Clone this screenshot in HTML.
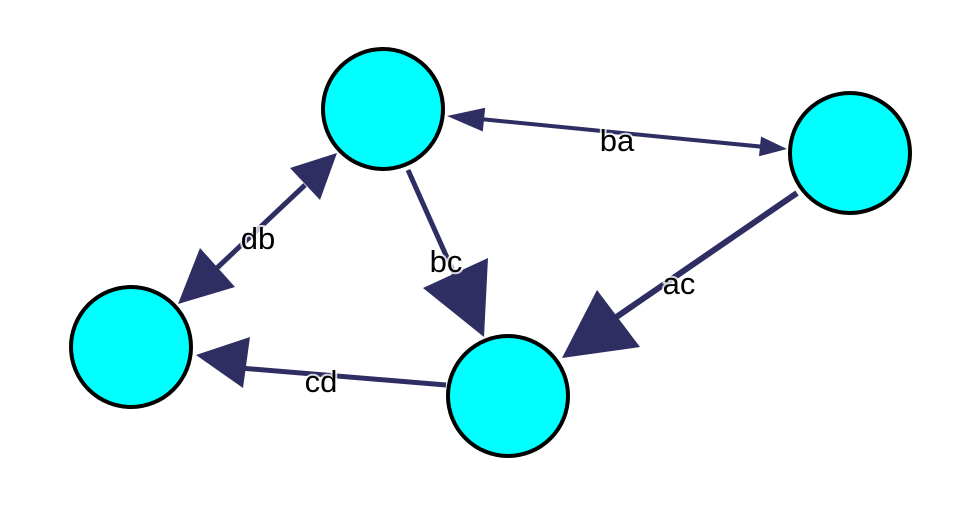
<!DOCTYPE html>
<html><head><style>html,body{margin:0;padding:0;background:#fff;}svg{display:block}</style></head>
<body>
<svg width="962" height="518" viewBox="0 0 962 518" xmlns="http://www.w3.org/2000/svg">
<g stroke="#2e2e62" fill="none" stroke-linecap="butt">
<line x1="480" y1="119" x2="765" y2="147" stroke-width="4"/>
<line x1="305" y1="185" x2="217" y2="268" stroke-width="5"/>
<line x1="408" y1="170" x2="457" y2="280" stroke-width="5"/>
<line x1="797" y1="193" x2="615" y2="318" stroke-width="6"/>
<line x1="446" y1="385" x2="240" y2="368" stroke-width="5"/>
</g>
<g fill="#2e2e62">
<polygon points="447,116 482.8,131.5 485.2,107.7"/>
<polygon points="787,149 759,156.3 761,136.5"/>
<polygon points="337,153 290,168 320,200"/>
<polygon points="178,304 200,248 235,287"/>
<polygon points="484,337 423,288 488,258"/>
<polygon points="562,358 597,290 640,347"/>
<polygon points="196,355 250,337 243,388"/>
</g>
<g fill="#00ffff" stroke="#000" stroke-width="4">
<circle cx="383" cy="109" r="60"/>
<circle cx="850" cy="153" r="60"/>
<circle cx="131" cy="347" r="60"/>
<circle cx="508" cy="396" r="60"/>
</g>
<g font-family="Liberation Sans, sans-serif" font-size="31" fill="#000" text-anchor="middle" stroke="#fff" stroke-width="4" paint-order="stroke" stroke-opacity="0.8">
<text x="617" y="151">ba</text>
<text x="258" y="249">db</text>
<text x="446" y="272">bc</text>
<text x="679" y="294">ac</text>
<text x="321" y="392">cd</text>
</g>
</svg>
</body></html>
